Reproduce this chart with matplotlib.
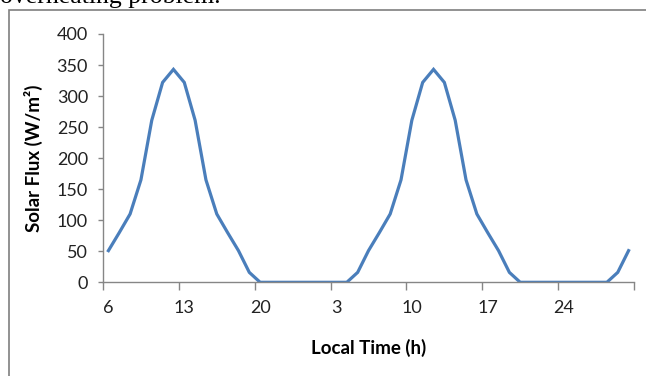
import matplotlib.pyplot as plt
from matplotlib.patches import Rectangle

# hourly solar flux, starting at 06:00 on day one
hours = [6, 7, 8, 9, 10, 11, 12, 13, 14, 15, 16, 17, 18, 19, 20, 21, 22, 23, 24,
         1, 2, 3, 4, 5, 6, 7, 8, 9, 10, 11, 12, 13, 14, 15, 16, 17, 18, 19, 20, 21, 22, 23, 24,
         1, 2, 3, 4, 5, 6]
flux = [51, 80, 110, 165, 261, 322, 343, 322, 261, 165, 110, 80, 51, 16, 0, 0, 0, 0, 0,
        0, 0, 0, 0, 16, 51, 80, 110, 165, 261, 322, 343, 322, 261, 165, 110, 80, 51, 16, 0, 0, 0, 0, 0,
        0, 0, 0, 0, 16, 51]

W, H = 646, 376
fig = plt.figure(figsize=(W / 100, H / 100), dpi=100)

# frame around the chart
fig.patches.append(Rectangle((9 / W, -0.1), 1.2, 1 - 9.5 / H + 0.1,
                             transform=fig.transFigure, fill=False,
                             edgecolor="#7f7f7f", linewidth=1.2))

# end of the sentence above the chart, partly cut off
fig.text(0.0, 1 - 3.5 / H, "overheating problem.", family="Liberation Serif",
         fontsize=18.5, ha="left", va="baseline", color="black")

ax = fig.add_axes([103 / W, 1 - 282.3 / H, (634 - 103) / W, (282.3 - 34) / H])

x = list(range(len(flux)))
ax.plot(x, flux, color="#4a7ebb", linewidth=2.3, solid_joinstyle="miter")

ax.set_xlim(-0.5, len(flux) - 0.5)
ax.set_ylim(0, 400)
ax.set_yticks(range(0, 401, 50))

# labels on every 7th category, tick marks between categories
label_pos = x[::7]
ax.set_xticks(label_pos)
ax.set_xticklabels([str(hours[i]) for i in label_pos])
ax.set_xticks([i - 0.5 for i in range(0, len(flux) + 1, 7)], minor=True)
ax.tick_params(axis="x", which="major", length=0, pad=13)
ax.tick_params(axis="x", which="minor", length=5.5, width=1, color="#868686")
ax.tick_params(axis="y", length=3.8, width=1, color="#868686", pad=7)

for lbl in ax.get_xticklabels() + ax.get_yticklabels():
    lbl.set_family("Lato")
    lbl.set_fontsize(13)
    lbl.set_color("#222222")

for s in ["top", "right"]:
    ax.spines[s].set_visible(False)
for s in ["left", "bottom"]:
    ax.spines[s].set_color("#868686")
    ax.spines[s].set_linewidth(1)

ax.set_xlabel("Local Time (h)", family="Lato", fontweight="bold", fontsize=13.5, labelpad=16)
ax.set_ylabel("Solar Flux (W/m²)", family="Lato", fontweight="bold", fontsize=13.5, labelpad=10)

fig.savefig("out.png", dpi=100)
